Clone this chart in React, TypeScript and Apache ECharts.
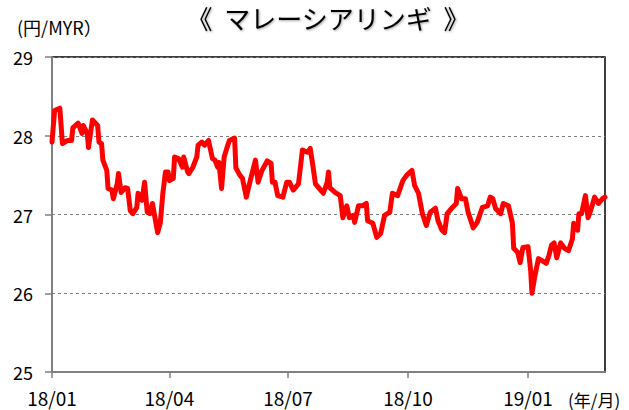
import React, { useEffect, useRef } from "react";
import * as echarts from "echarts";

// Day offsets from 2018-01-01 and JPY per MYR values
const days = [
  0, 2, 6, 8, 12, 15, 16, 20, 23, 24, 27, 28, 31, 35, 36, 38, 39, 42, 43, 46,
  47, 50, 51, 53, 56, 58, 60, 62, 65, 66, 69, 71, 73, 75, 77, 81, 83, 85, 87, 89,
  90, 93, 94, 97, 100, 101, 104, 105, 108, 111, 112, 115, 117, 120, 123, 125, 127, 128, 130, 132,
  134, 136, 140, 141, 144, 146, 149, 152, 156, 158, 161, 165, 168, 169, 171, 173, 177, 180, 182, 185,
  189, 192, 196, 198, 200, 202, 206, 208, 211, 212, 213, 217, 221, 223, 226, 228, 231, 232, 235, 238,
  241, 242, 246, 249, 252, 255, 259, 261, 265, 269, 272, 276, 278, 281, 284, 287, 290, 294, 296, 299,
  301, 303, 307, 310, 311, 314, 317, 319, 323, 326, 330, 334, 336, 338, 340, 344, 346, 350, 353, 354,
  357, 359, 361, 365, 367, 368, 370, 373, 376, 379, 381, 383, 385, 387, 390, 393, 396, 399, 400, 403,
  404, 406, 409, 411, 413, 416, 419, 422, 424,
];
const rates = [
  27.92, 28.32, 28.35, 27.9, 27.94, 27.94, 28.1, 28.16, 28.03, 28.13, 28.03, 27.85, 28.2, 28.13, 27.92, 27.9, 27.69, 27.56, 27.33, 27.31,
  27.2, 27.39, 27.52, 27.28, 27.34, 27.33, 27.05, 27.01, 27.09, 27.27, 27.18, 27.41, 27.03, 27.01, 27.14, 26.77, 26.89, 27.27, 27.54, 27.54,
  27.43, 27.46, 27.73, 27.71, 27.6, 27.73, 27.54, 27.52, 27.6, 27.73, 27.88, 27.92, 27.88, 27.94, 27.71, 27.69, 27.6, 27.66, 27.33, 27.73,
  27.84, 27.94, 27.97, 27.59, 27.5, 27.46, 27.22, 27.43, 27.69, 27.41, 27.56, 27.68, 27.65, 27.41, 27.41, 27.24, 27.22, 27.41, 27.41, 27.31,
  27.39, 27.82, 27.79, 27.84, 27.62, 27.39, 27.31, 27.27, 27.41, 27.54, 27.34, 27.28, 27.24, 26.96, 27.11, 26.96, 26.99, 26.9, 27.11, 27.11,
  27.14, 26.92, 26.89, 26.71, 26.76, 26.99, 27.03, 27.27, 27.24, 27.43, 27.5, 27.56, 27.37, 27.27, 27.01, 26.86, 27.03, 27.08, 26.92, 26.8,
  26.77, 27.01, 27.09, 27.14, 27.33, 27.2, 27.2, 27.03, 26.83, 26.9, 27.09, 27.11, 27.22, 27.2, 27.08, 27.01, 27.14, 27.11, 26.89, 26.57,
  26.52, 26.39, 26.58, 26.59, 26.29, 26.0, 26.2, 26.44, 26.41, 26.38, 26.48, 26.61, 26.64, 26.45, 26.64, 26.57, 26.54, 26.69, 26.89, 26.8,
  27.01, 27.01, 27.24, 26.96, 27.05, 27.22, 27.14, 27.2, 27.22,
];
const tickDays = [0, 90, 181, 273, 365];
const tickLabels = ["18/01", "18/04", "18/07", "18/10", "19/01"];
const titleText = "《  マレーシアリンギ  》";
const unitText = "(円/MYR）";
const xUnitText = "(年/月)";

const FONT = "'Noto Sans CJK JP', 'Noto Sans', sans-serif";

export default function App() {
  const ref = useRef<HTMLDivElement>(null);
  useEffect(() => {
    if (!ref.current) return;
    const chart = echarts.init(ref.current, null, { renderer: "svg" });
    chart.setOption({
      animation: false,
      backgroundColor: "#ffffff",
      grid: {
        left: 52,
        right: 24,
        top: 57,
        bottom: 38,
        show: true,
        borderColor: "#000000",
        borderWidth: 1.5,
        backgroundColor: "transparent",
      },
      graphic: [
        {
          type: "text",
          x: 328,
          y: 17,
          style: {
            text: titleText,
            font: `26px ${FONT}`,
            fill: "#000000",
            textAlign: "center",
            textVerticalAlign: "middle",
            textShadowColor: "rgba(0,0,0,0.35)",
            textShadowBlur: 2,
            textShadowOffsetX: 1,
            textShadowOffsetY: 1,
          },
        },
        {
          type: "text",
          x: 17,
          y: 27,
          style: {
            text: unitText,
            font: `18px ${FONT}`,
            fill: "#000000",
            textVerticalAlign: "middle",
          },
        },
        {
          type: "text",
          x: 568,
          y: 399,
          style: {
            text: xUnitText,
            font: `17px ${FONT}`,
            fill: "#000000",
            textVerticalAlign: "middle",
          },
        },
      ],
      xAxis: {
        type: "value",
        min: 0,
        max: 424,
        axisLine: { show: true, onZero: false, lineStyle: { color: "#808080", width: 2 } },
        axisTick: {
          show: true,
          customValues: tickDays,
          length: 6,
          lineStyle: { color: "#808080", width: 1.5 },
        },
        axisLabel: {
          customValues: tickDays,
          formatter: (v: number) => {
            const i = tickDays.indexOf(Math.round(v));
            return i >= 0 ? tickLabels[i] : "";
          },
          fontSize: 19,
          fontFamily: FONT,
          color: "#000000",
          margin: 16,
        },
        splitLine: { show: false },
      },
      yAxis: {
        type: "value",
        min: 25,
        max: 29,
        interval: 1,
        axisLine: { show: true, lineStyle: { color: "#808080", width: 2 } },
        axisTick: { show: true, length: 7, lineStyle: { color: "#808080", width: 1.5 } },
        axisLabel: {
          fontSize: 18,
          fontFamily: FONT,
          color: "#000000",
          margin: 19,
        },
        splitLine: {
          show: true,
          lineStyle: { color: "#808080", type: [3, 3], width: 1 },
        },
      },
      series: [
        {
          type: "line",
          data: days.map((d, i) => [d, rates[i]]),
          showSymbol: false,
          symbol: "none",
          lineStyle: { color: "#ff0000", width: 5, join: "round", cap: "round" },
          z: 3,
        },
      ],
    });
    return () => chart.dispose();
  }, []);
  return <div ref={ref} style={{ width: 629, height: 410, position: "absolute", left: 0, top: 0 }} />;
}
